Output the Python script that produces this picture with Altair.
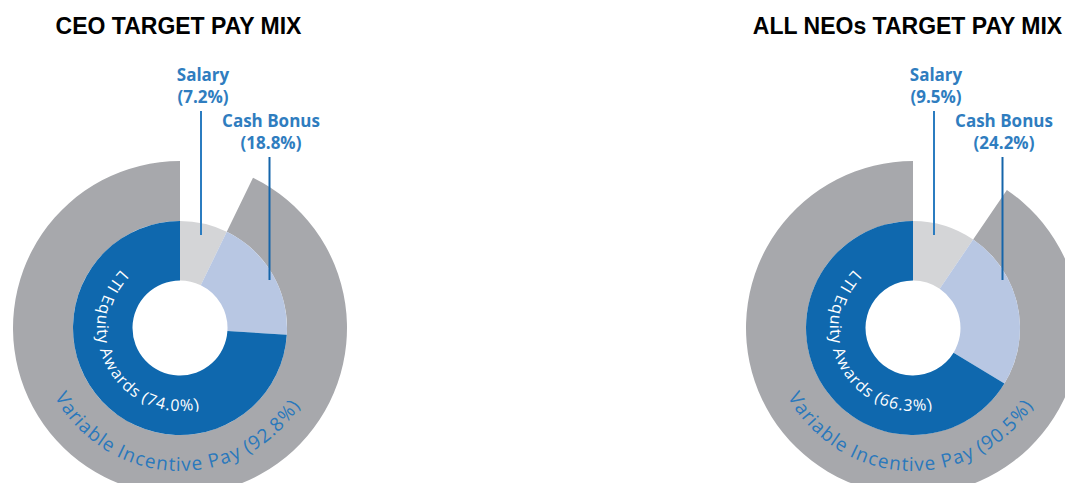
import altair as alt
import pandas as pd

# ---------------- data ----------------
charts = ["CEO", "ALL NEOs"]
titles = ["CEO TARGET PAY MIX", "ALL NEOs TARGET PAY MIX"]
components = ["Salary", "Cash Bonus", "LTI Equity Awards"]
salary = [7.2, 9.5]
cash_bonus = [18.8, 24.2]
lti_equity = [74.0, 66.3]
variable_pay = [92.8, 90.5]

# ---------------- styles ----------------
COMP_COLORS = ["#D4D5D7", "#B8C7E3", "#0F68AE"]
OUTER_GRAY = "#A7A8AC"
LABEL_BLUE = "#2F7DBF"
LINE_SAL = "#2B7CC0"
LINE_CASH = "#1565AA"
OUTER_TEXT = "#2A78BC"

CENTERS = [(172, 320), (905, 320)]
TITLE_X = [170.5, 899.5]
R_HOLE, R_INNER, R_OUTER = 47.5, 107, 167
THETA = alt.Scale(domain=[0, 360], range=[0, 6.283185307179586])

# approximate Open Sans advance widths (em)
W = {" ": .26, "(": .295, ")": .295, "%": .83, ".": .266, "A": .633, "E": .556,
     "I": .297, "L": .549, "P": .603, "T": .556, "V": .594, "a": .556, "b": .613,
     "c": .476, "d": .613, "e": .561, "i": .253, "l": .253, "n": .614, "q": .613,
     "r": .408, "s": .477, "t": .353, "u": .614, "v": .501, "w": .778, "y": .502}


def arc_chars(text, a0, a1):
    """characters of a label laid along an arc from angle a0 to a1 (char centres)"""
    ws = [W.get(ch, .572) for ch in text]
    centers, acc = [], 0.0
    for w in ws:
        centers.append(acc + w / 2)
        acc += w
    c0, c1 = centers[0], centers[-1]
    rows = []
    for ch, c in zip(text, centers):
        deg = a0 + (a1 - a0) * (c - c0) / (c1 - c0)
        rows.append({"ch": ch, "deg": deg, "rot": (deg - 180) % 360})
    return pd.DataFrame(rows)


def text_layer(txt, x, y, size, color, bold=True, font="Open Sans"):
    return alt.Chart(pd.DataFrame({"t": [txt]})).mark_text(
        font=font, fontSize=size, fontWeight="bold" if bold else "normal",
        color=color, align="center", baseline="alphabetic"
    ).encode(x=alt.value(x), y=alt.value(y), text="t:N")


def rule_layer(x, y1, y2, color):
    return alt.Chart(pd.DataFrame({"a": [0]})).mark_rule(
        color=color, strokeWidth=2
    ).encode(x=alt.value(x), y=alt.value(y1), y2=alt.value(y2))


layers = []
for i, name in enumerate(charts):
    cx, cy = CENTERS[i]
    vals = [salary[i], cash_bonus[i], lti_equity[i]]
    inner_df = pd.DataFrame({"comp": components, "order": [0, 1, 2], "value": vals})
    outer_df = pd.DataFrame({"comp": ["Variable Incentive Pay"], "value": [variable_pay[i]]})

    outer = alt.Chart(outer_df).transform_calculate(
        t0="(100 - datum.value) * 3.6", t1="360"
    ).mark_arc(innerRadius=R_INNER, outerRadius=R_OUTER, color=OUTER_GRAY).encode(
        x=alt.value(cx), y=alt.value(cy),
        theta=alt.Theta("t0:Q", scale=THETA, stack=None), theta2="t1:Q"
    )

    inner = alt.Chart(inner_df).transform_window(
        cum="sum(value)", sort=[alt.SortField("order")], frame=[None, 0]
    ).transform_calculate(
        t1="datum.cum * 3.6", t0="(datum.cum - datum.value) * 3.6"
    ).mark_arc(innerRadius=R_HOLE, outerRadius=R_INNER).encode(
        x=alt.value(cx), y=alt.value(cy),
        theta=alt.Theta("t0:Q", scale=THETA, stack=None), theta2="t1:Q",
        color=alt.Color("comp:N", scale=alt.Scale(domain=components, range=COMP_COLORS),
                        legend=None)
    )

    lti_txt = f"LTI Equity Awards ({lti_equity[i]:.1f}%)"
    var_txt = f"Variable Incentive Pay ({variable_pay[i]:.1f}%)"

    lti_label = alt.Chart(arc_chars(lti_txt, 312, 168)).mark_text(
        radius=78, font="Open Sans", fontSize=16, color="white",
        align="center", baseline="middle"
    ).encode(
        x=alt.value(cx), y=alt.value(cy),
        theta=alt.Theta("deg:Q", scale=THETA, stack=None),
        angle=alt.Angle("rot:Q", scale=None), text="ch:N"
    )
    var_label = alt.Chart(arc_chars(var_txt, 239, 124)).mark_text(
        radius=137, font="Open Sans", fontSize=19, color=OUTER_TEXT,
        align="center", baseline="middle"
    ).encode(
        x=alt.value(cx), y=alt.value(cy),
        theta=alt.Theta("deg:Q", scale=THETA, stack=None),
        angle=alt.Angle("rot:Q", scale=None), text="ch:N"
    )

    layers += [outer, inner, lti_label, var_label]
    layers += [
        rule_layer(cx + 21, cy - 217, cy - 93, LINE_SAL),
        rule_layer(cx + 89.5, cy - 171, cy - 48, LINE_CASH),
        text_layer("Salary", cx + 23, cy - 247, 17, LABEL_BLUE),
        text_layer(f"({salary[i]}%)", cx + 23, cy - 225, 17, LABEL_BLUE),
        text_layer("Cash Bonus", cx + 91, cy - 201, 17, LABEL_BLUE),
        text_layer(f"({cash_bonus[i]}%)", cx + 91, cy - 179, 17, LABEL_BLUE),
        text_layer(titles[i], TITLE_X[i], 26, 23, "#000000", font="Liberation Sans"),
    ]

chart = alt.layer(*layers).properties(
    width=1057, height=475, padding=0,
    autosize=alt.AutoSizeParams(type="none"),
    background="white",
).configure_view(stroke=None)

chart.save("out.html", embed_options={"renderer": "svg", "actions": False})
